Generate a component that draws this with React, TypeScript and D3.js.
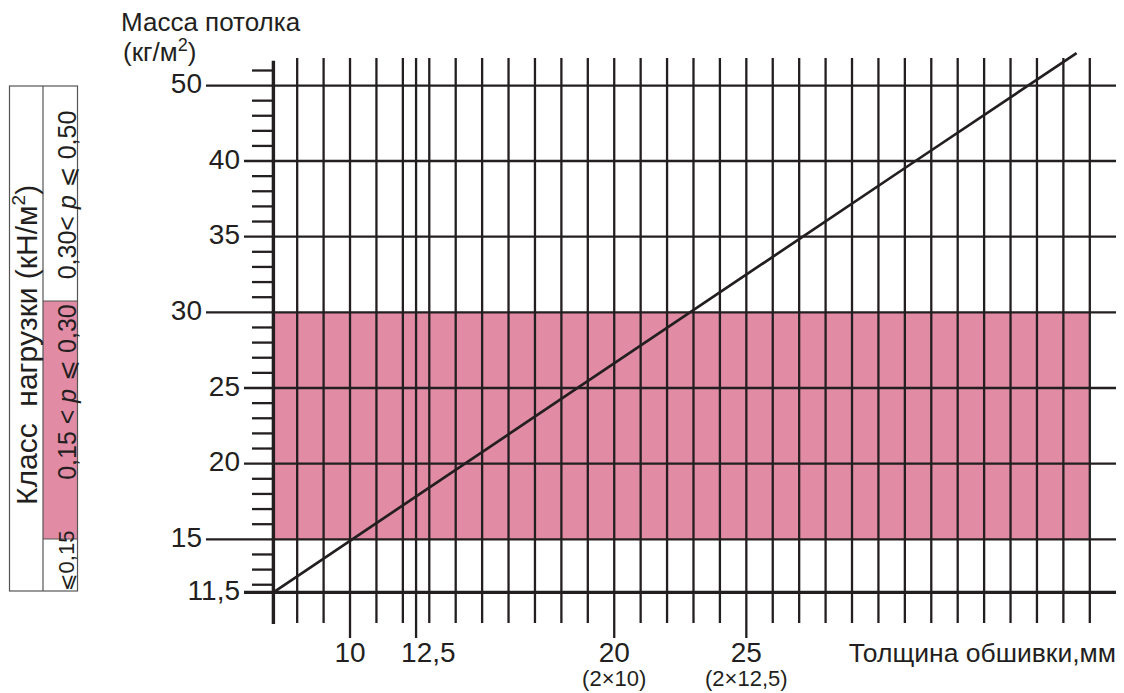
import React from "react";
import * as d3 from "d3";

// ---- data ----
const lineThickness = [7.1, 31.4, 37.5];
const lineMass = [11.5, 40, 54.3];

const bandMass = [15, 30];

const xGrid = [8, 9, 10, 11, 12, 12.5, 13, 14, 15, 16, 17, 18, 19, 20, 21, 22, 23, 24, 25, 26, 27, 28, 29, 30, 31, 32, 33, 34, 35, 36, 37, 38];
const xMajor = [10, 12.5, 20, 25];
const xMajorLabels = ["10", "12,5", "20", "25"];
const xSubLabels = ["", "", "(2×10)", "(2×12,5)"];

const yMajor = [50, 40, 35, 30, 25, 20, 15, 11.5];
const yMajorLabels = ["50", "40", "35", "30", "25", "20", "15", "11,5"];
const yLongTicks = [50, 30, 15];
const yMinor = [12, 13, 14, 16, 17, 18, 19, 21, 22, 23, 24, 26, 27, 28, 29, 31, 32, 33, 34, 36, 37, 38, 39, 42, 44, 46, 48, 52];

const legendTitle = "Класс  нагрузки (кН/м";
const legendClasses = ["0,30< ", "0,15 < ", ""];
const legendUpper = [" 0,50", " 0,30", "0,15"];

const FONT = "'Liberation Sans', Arial, Helvetica, sans-serif";
const INK = "#231f20";
const PINK = "#e18ba5";

export default function App() {
  const x = d3.scaleLinear().domain([7.1, 38]).range([273.4, 1089.8]);
  const y = d3.scaleLinear().domain([11.5, 40, 53.3]).range([592.3, 161, 60.7]);
  const xLeft = x(7.1);
  const xRight = 1116;

  const line = d3
    .line<number>()
    .x((d, i) => x(lineThickness[i]))
    .y((d) => y(d));

  const leqStyle = { fontFamily: "'DejaVu Sans', sans-serif" };

  return (
    <svg
      width={1124}
      height={693}
      style={{ position: "absolute", left: 0, top: 0, background: "#fff" }}
      fontFamily={FONT}
    >
      {/* pink band */}
      <rect
        x={xLeft}
        y={y(bandMass[1])}
        width={x(38) - xLeft}
        height={y(bandMass[0]) - y(bandMass[1])}
        fill={PINK}
      />

      {/* vertical grid */}
      {xGrid.map((v) => (
        <line
          key={"vx" + v}
          x1={x(v)}
          x2={x(v)}
          y1={58}
          y2={xMajor.includes(v) ? 638 : 623}
          stroke={INK}
          strokeWidth={2.3}
        />
      ))}

      {/* horizontal major lines */}
      {yMajor.map((v) => (
        <line
          key={"hy" + v}
          x1={yLongTicks.includes(v) ? 206 : 244}
          x2={xRight}
          y1={y(v)}
          y2={y(v)}
          stroke={INK}
          strokeWidth={v === 11.5 ? 3.2 : 2.3}
        />
      ))}

      {/* minor ticks */}
      {yMinor.map((v) => (
        <line key={"my" + v} x1={252} x2={xLeft} y1={y(v)} y2={y(v)} stroke={INK} strokeWidth={2.3} />
      ))}

      {/* y axis */}
      <line x1={xLeft} x2={xLeft} y1={60.7} y2={624} stroke={INK} strokeWidth={3.4} />

      {/* data line */}
      <path d={line(lineMass) || ""} fill="none" stroke={INK} strokeWidth={2.7} />

      {/* y labels */}
      {yMajor.map((v, i) => (
        <text
          key={"yl" + v}
          x={(yLongTicks.includes(v) ? 206 : 244) - 4}
          y={y(v) + 7.5}
          textAnchor="end"
          fontSize={28}
          fill={INK}
        >
          {yMajorLabels[i]}
        </text>
      ))}

      {/* x labels */}
      {xMajor.map((v, i) => (
        <g key={"xl" + v}>
          <text
            x={v === 12.5 ? x(v) - 15 : x(v)}
            y={662}
            textAnchor={v === 12.5 ? "start" : "middle"}
            fontSize={28}
            fill={INK}
          >
            {xMajorLabels[i]}
          </text>
          {xSubLabels[i] && (
            <text x={x(v)} y={686} textAnchor="middle" fontSize={22} fill={INK}>
              {xSubLabels[i]}
            </text>
          )}
        </g>
      ))}

      {/* axis titles */}
      <text x={121} y={30.5} fontSize={26} fill={INK}>
        Масса потолка
      </text>
      <text x={123} y={61} fontSize={26} fill={INK}>
        (кг/м<tspan fontSize={18} dy={-10}>2</tspan>
        <tspan dy={10}>)</tspan>
      </text>
      <text x={1116} y={662} textAnchor="end" fontSize={26.5} fill={INK}>
        Толщина обшивки,мм
      </text>

      {/* legend */}
      <g>
        <rect x={43} y={301} width={35} height={238} fill={PINK} />
        <rect x={9.5} y={86} width={68} height={505} fill="none" stroke="#555" strokeWidth={1.2} />
        <line x1={43} x2={43} y1={86} y2={591} stroke="#555" strokeWidth={1.2} />
        <line x1={43} x2={78} y1={301} y2={301} stroke="#555" strokeWidth={1.2} />
        <line x1={43} x2={78} y1={539} y2={539} stroke="#555" strokeWidth={1.2} />
        <text
          transform="translate(37,505) rotate(-90)"
          fontSize={30}
          fill={INK}
          style={{ whiteSpace: "pre" }}
        >
          {legendTitle}
          <tspan fontSize={19} dy={-12}>2</tspan>
          <tspan dy={12}>)</tspan>
        </text>
        <text transform="translate(75.5,195) rotate(-90)" textAnchor="middle" fontSize={25} fill={INK} style={{ whiteSpace: "pre" }}>
          {legendClasses[0]}
          <tspan fontStyle="italic">p</tspan>
          <tspan {...leqStyle} fontSize={25}> ⩽</tspan>
          {legendUpper[0]}
        </text>
        <text transform="translate(75.5,392) rotate(-90)" textAnchor="middle" fontSize={25} fill={INK} style={{ whiteSpace: "pre" }}>
          {legendClasses[1]}
          <tspan fontStyle="italic">p</tspan>
          <tspan {...leqStyle} fontSize={25}> ⩽</tspan>
          {legendUpper[1]}
        </text>
        <text transform="translate(74,591) rotate(-90)" fontSize={22} fill={INK}>
          <tspan {...leqStyle} fontSize={21}>⩽</tspan>
          {legendUpper[2]}
        </text>
      </g>
    </svg>
  );
}
